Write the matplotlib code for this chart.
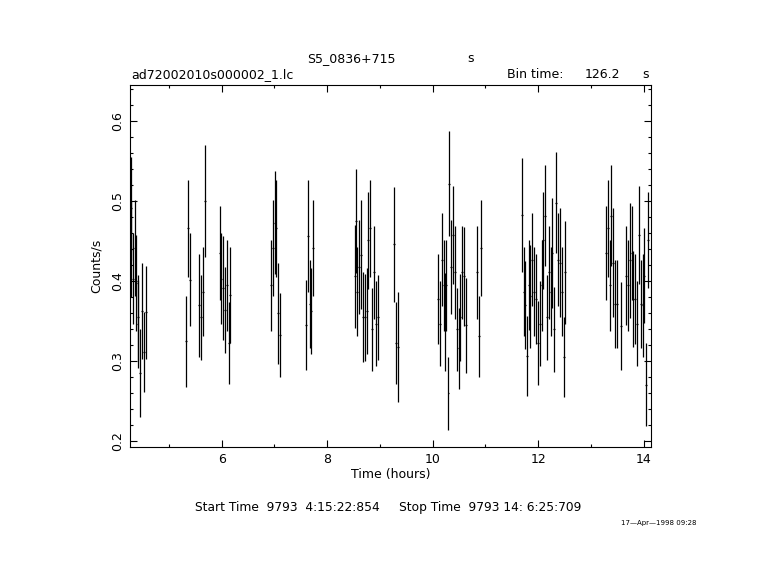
# coding:utf-8
# light curve  S5_0836+715  (ad72002010s000002_1.lc)

import matplotlib
matplotlib.use("Agg")
import matplotlib.pyplot as plt
from matplotlib.ticker import MultipleLocator

# 时间 (hours)
time_hr = [4.275, 4.290, 4.319, 4.357, 4.375, 4.405, 4.420, 4.458, 4.496, 4.534, 4.572,
           5.330, 5.368, 5.406, 5.577, 5.615, 5.652, 5.690, 5.962, 5.994, 6.032, 6.070,
           6.107, 6.145, 6.164,
           6.942, 6.979, 7.004, 7.030, 7.074, 7.112,
           7.605, 7.643, 7.675, 7.694, 7.738,
           8.522, 8.554, 8.573, 8.611, 8.643, 8.687, 8.724, 8.762, 8.782, 8.820, 8.858,
           8.896, 8.934, 8.972,
           9.273, 9.311, 9.349,
           10.107, 10.145, 10.183, 10.215, 10.234, 10.253, 10.300, 10.316, 10.354, 10.385,
           10.423, 10.467, 10.499, 10.524, 10.562, 10.600, 10.638, 10.847, 10.885, 10.923,
           11.687, 11.725, 11.757, 11.795, 11.833, 11.852, 11.890, 11.928, 11.966, 12.004,
           12.042, 12.080, 12.100, 12.137, 12.175, 12.213, 12.251, 12.270, 12.308, 12.346,
           12.384, 12.422, 12.460, 12.486, 12.504,
           13.294, 13.324, 13.362, 13.381, 13.419, 13.457, 13.495, 13.571, 13.672, 13.710,
           13.748, 13.786, 13.805, 13.843, 13.881, 13.919, 13.957, 13.995, 14.014, 14.052,
           14.090]

# Counts/s
rate = [0.491, 0.440, 0.403, 0.442, 0.398, 0.347, 0.355, 0.285, 0.363, 0.312, 0.361,
        0.325, 0.466, 0.402, 0.370, 0.355, 0.387, 0.500, 0.435, 0.403, 0.391, 0.364,
        0.395, 0.323, 0.383,
        0.395, 0.442, 0.473, 0.466, 0.360, 0.333,
        0.345, 0.456, 0.371, 0.363, 0.442,
        0.406, 0.475, 0.387, 0.418, 0.433, 0.355, 0.355, 0.363, 0.451, 0.466, 0.340,
        0.411, 0.347, 0.355,
        0.446, 0.323, 0.318,
        0.378, 0.347, 0.427, 0.395, 0.349, 0.395, 0.260, 0.522, 0.418, 0.458,
        0.411, 0.340, 0.316, 0.355, 0.411, 0.406, 0.345, 0.411, 0.331, 0.442,
        0.483, 0.387, 0.370, 0.307, 0.395, 0.381, 0.427, 0.387, 0.378, 0.323,
        0.347, 0.395, 0.451, 0.482, 0.355, 0.411, 0.387, 0.435, 0.340, 0.498,
        0.427, 0.423, 0.387, 0.305, 0.411,
        0.435, 0.466, 0.395, 0.482, 0.423, 0.371, 0.371, 0.344, 0.407, 0.395,
        0.426, 0.435, 0.378, 0.378, 0.347, 0.458, 0.371, 0.370, 0.407, 0.271,
        0.451]

# 误差
rate_err = [0.064, 0.060, 0.057, 0.060, 0.060, 0.055, 0.053, 0.055, 0.060, 0.050, 0.058,
            0.057, 0.061, 0.058, 0.064, 0.053, 0.056, 0.070, 0.059, 0.057, 0.065, 0.054,
            0.057, 0.051, 0.060,
            0.057, 0.060, 0.064, 0.061, 0.063, 0.052,
            0.056, 0.070, 0.055, 0.054, 0.060,
            0.064, 0.065, 0.056, 0.059, 0.068, 0.056, 0.054, 0.054, 0.061, 0.061, 0.052,
            0.058, 0.053, 0.053,
            0.072, 0.051, 0.069,
            0.056, 0.053, 0.058, 0.057, 0.061, 0.057, 0.046, 0.065, 0.059, 0.061,
            0.058, 0.052, 0.051, 0.054, 0.058, 0.062, 0.059, 0.058, 0.051, 0.060,
            0.071, 0.056, 0.055, 0.050, 0.056, 0.064, 0.058, 0.056, 0.056, 0.052,
            0.053, 0.057, 0.061, 0.063, 0.053, 0.058, 0.056, 0.069, 0.053, 0.063,
            0.058, 0.068, 0.056, 0.050, 0.064,
            0.059, 0.061, 0.057, 0.063, 0.068, 0.055, 0.055, 0.055, 0.062, 0.057,
            0.072, 0.059, 0.060, 0.056, 0.053, 0.061, 0.055, 0.064, 0.059, 0.052,
            0.060]

bin_time = 126.2                       # s
half_bin = bin_time / 3600.0 / 2.0     # hours

W, H = 781, 580
fig = plt.figure(figsize=(W / 100.0, H / 100.0), dpi=100)
fig.patch.set_facecolor("white")

# 坐标轴位置（像素）
left, right, top, bottom = 130, 651, 85, 447
ax = fig.add_axes([left / W, 1 - bottom / H, (right - left) / W, (bottom - top) / H])

ax.errorbar(time_hr, rate, yerr=rate_err, xerr=half_bin, fmt="none",
            ecolor="black", elinewidth=0.9, capsize=0)

ax.set_xlim(4.262, 14.14)
ax.set_ylim(0.193, 0.645)

ax.xaxis.set_major_locator(MultipleLocator(2))
ax.xaxis.set_minor_locator(MultipleLocator(1))
ax.yaxis.set_major_locator(MultipleLocator(0.1))
ax.yaxis.set_minor_locator(MultipleLocator(0.02))
ax.tick_params(which="both", direction="in", top=True, right=True, color="black", width=0.8)
ax.tick_params(which="major", length=5, labelsize=9, pad=4)
ax.tick_params(which="minor", length=2.4)
for lab in ax.get_yticklabels():
    lab.set_rotation(90)
    lab.set_va("center")
for sp in ax.spines.values():
    sp.set_linewidth(0.8)

ax.set_xlabel("Time (hours)", fontsize=9, labelpad=2)
ax.set_ylabel("Counts/s", fontsize=9, labelpad=6)


def ftext(x, y, s, **kw):
    # 像素坐标 -> figure 坐标
    fig.text(x / W, 1 - y / H, s, **kw)


ftext(351, 59, "S5_0836+715", fontsize=9, ha="center", va="center")
ftext(471, 59, "s", fontsize=9, ha="center", va="center")
ftext(131, 75, "ad72002010s000002_1.lc", fontsize=9, ha="left", va="center")
ftext(507, 75, "Bin time:", fontsize=9, ha="left", va="center")
ftext(585, 75, "126.2", fontsize=9, ha="left", va="center")
ftext(646, 75, "s", fontsize=9, ha="center", va="center")
ftext(195, 508, "Start Time  9793  4:15:22:854     Stop Time  9793 14: 6:25:709",
      fontsize=8.8, ha="left", va="center")
ftext(621, 523, "17\u2014Apr\u20141998 09:28", fontsize=5, ha="left", va="center")

fig.savefig("out.png", dpi=100)
